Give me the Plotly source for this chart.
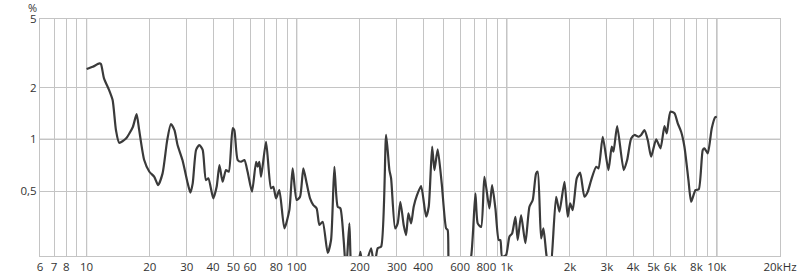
import plotly.graph_objects as go
import math

freq_hz = [10, 10.7, 11.5, 11.7, 12.1, 12.8, 13.3, 13.8, 14.3, 15.4, 16.6, 17.3, 17.8, 18.8, 19.9,
           21.0, 21.9, 23.0, 24.2, 25.2, 26.2, 27.1, 28.6, 30.3, 31.2, 32.0, 33.2, 34.4, 35.7, 37.0,
           38.0, 40.1, 41.6, 42.9, 44.4, 46.1, 47.5, 49.6, 50.5, 52.4, 54.4, 56.4, 58.4, 61.3, 64.1,
           65.2, 66.4, 67.7, 71.5, 75.5, 77.4, 79.8, 82.7, 87.4, 92.3, 95.7, 100, 103.8, 107.6, 111.6,
           115.8, 120.1, 124.5, 128.3, 133, 140.5, 145.8, 151.2, 156.8, 161.5, 167.4, 171.9, 178.2, 183.2, 190.3,
           201.1, 207.8, 226.1, 234.4, 243.1, 252.4, 266.6, 276.4, 281.6, 294.2, 302.7, 311.7, 323.2, 331.9, 340.3,
           350.6, 360.7, 374.4, 391.2, 413.3, 425.3, 441.5, 452.7, 469.3, 490.4, 514.6, 523.6, 536.4, 608.4, 677,
           709.6, 727.7, 755.3, 783.1, 827.2, 852, 883.4, 916, 933, 951, 993, 1030, 1061, 1100, 1128,
           1171, 1227, 1283, 1330, 1380, 1405, 1458, 1495, 1550, 1614, 1719, 1782, 1883, 1952, 2004,
           2062, 2155, 2236, 2344, 2431, 2524, 2666, 2734, 2865, 3050, 3162, 3222, 3356, 3606, 3744,
           3912, 4057, 4238, 4365, 4526, 4693, 4871, 5145, 5396, 5636, 5780, 6018, 6289, 6520, 6767,
           7016, 7331, 7553, 7917, 8208, 8577, 8738, 9060, 9467, 9826, 10000]

distortion_pct = [2.56, 2.64, 2.76, 2.74, 2.26, 1.93, 1.69, 1.13, 0.955, 1.01, 1.18, 1.40, 1.13, 0.758, 0.648,
                  0.606, 0.542, 0.634, 0.99, 1.227, 1.13, 0.927, 0.758, 0.555, 0.49, 0.555, 0.867, 0.927, 0.867, 0.58,
                  0.593, 0.454, 0.53, 0.709, 0.567, 0.663, 0.648, 1.16, 1.13, 0.758, 0.741, 0.758, 0.648, 0.496, 0.741,
                  0.693, 0.741, 0.606, 0.968, 0.519, 0.53, 0.454, 0.507, 0.304, 0.388, 0.678, 0.444, 0.464, 0.678, 0.555,
                  0.454, 0.415, 0.397, 0.318, 0.332, 0.219, 0.26, 0.693, 0.406, 0.397, 0.26, 0.17, 0.325, 0.16, 0.15,
                  0.222, 0.17, 0.233, 0.18, 0.233, 0.238, 1.06, 0.663, 0.593, 0.304, 0.325, 0.434, 0.318, 0.278, 0.372,
                  0.325, 0.406, 0.475, 0.535, 0.355, 0.406, 0.906, 0.663, 0.875, 0.555, 0.304, 0.297, 0.15, 0.12, 0.208,
                  0.486, 0.325, 0.31, 0.606, 0.397, 0.542, 0.397, 0.26, 0.26, 0.208, 0.213, 0.272, 0.284, 0.355, 0.26,
                  0.363, 0.249, 0.406, 0.444, 0.634, 0.648, 0.266, 0.304, 0.208, 0.17, 0.464, 0.38, 0.567, 0.355, 0.425,
                  0.388, 0.593, 0.64, 0.464, 0.496, 0.58, 0.693, 0.678, 1.035, 0.663, 0.906, 0.847, 1.195, 0.663, 0.758,
                  1.01, 1.06, 1.035, 1.06, 1.13, 0.99, 0.792, 1.0, 0.887, 1.195, 1.084, 1.447, 1.416, 1.239, 1.107,
                  0.906, 0.58, 0.434, 0.507, 0.512, 0.867, 0.887, 0.829, 1.16, 1.342, 1.35]

x_tick_vals = [6, 7, 8, 10, 20, 30, 40, 50, 60, 80, 100, 200, 300, 400, 600, 800,
               1000, 2000, 3000, 4000, 5000, 6000, 8000, 10000, 20000]
x_tick_text = ["6", "7", "8", "10", "20", "30", "40", "50", "60", "80", "100", "200", "300", "400", "600", "800",
               "1k", "2k", "3k", "4k", "5k", "6k", "8k", "10k", "20kHz"]
x_minor_vals = [9, 70, 90, 500, 700, 900, 7000, 9000]
x_decades = [10, 100, 1000, 10000]

y_tick_vals = [0.5, 1, 2, 5]
y_tick_text = ["0,5", "1", "2", "5"]
y_major = [1]

x_range = [6, 20000]
y_range = [0.21, 5]

LIGHT = "#c4c4c4"
DARK = "#6e6e6e"
TXT = "#333333"

fig = go.Figure()
fig.add_trace(go.Scatter(
    x=freq_hz, y=distortion_pct, mode="lines",
    line=dict(color="#3a3a3a", width=2.2, shape="spline", smoothing=0.6),
    hoverinfo="skip", showlegend=False,
))

shapes = []
for v in x_decades:
    shapes.append(dict(type="line", xref="x", yref="paper", x0=v, x1=v, y0=0, y1=1,
                       line=dict(color=DARK, width=1), layer="below"))
for v in y_major:
    shapes.append(dict(type="line", xref="paper", yref="y", x0=0, x1=1, y0=v, y1=v,
                       line=dict(color=DARK, width=1), layer="below"))

fig.update_layout(
    width=800, height=280,
    margin=dict(l=40, r=20, t=19, b=24, autoexpand=False),
    paper_bgcolor="white", plot_bgcolor="white",
    font=dict(family="Open Sans", size=11.5, color=TXT),
    shapes=shapes,
    annotations=[dict(text="%", xref="paper", yref="paper", x=-0.0095, y=1.047,
                      xanchor="center", yanchor="middle", showarrow=False,
                      font=dict(size=11, color=TXT))],
    xaxis=dict(
        type="log", range=[math.log10(x_range[0]), math.log10(x_range[1])],
        tickmode="array", tickvals=x_tick_vals, ticktext=x_tick_text,
        showgrid=True, gridcolor=LIGHT, gridwidth=1,
        minor=dict(tickmode="array", tickvals=x_minor_vals, showgrid=True, gridcolor=LIGHT, gridwidth=1, ticks=""),
        ticks="", showline=True, linecolor=LIGHT, linewidth=1, mirror=True,
        zeroline=False, fixedrange=True, automargin=False,
    ),
    yaxis=dict(
        type="log", range=[math.log10(y_range[0]), math.log10(y_range[1])],
        tickmode="array", tickvals=y_tick_vals, ticktext=y_tick_text,
        showgrid=True, gridcolor=LIGHT, gridwidth=1,
        ticks="", showline=True, linecolor=LIGHT, linewidth=1, mirror=True,
        zeroline=False, fixedrange=True, automargin=False,
    ),
)

fig.write_html("out.html")
